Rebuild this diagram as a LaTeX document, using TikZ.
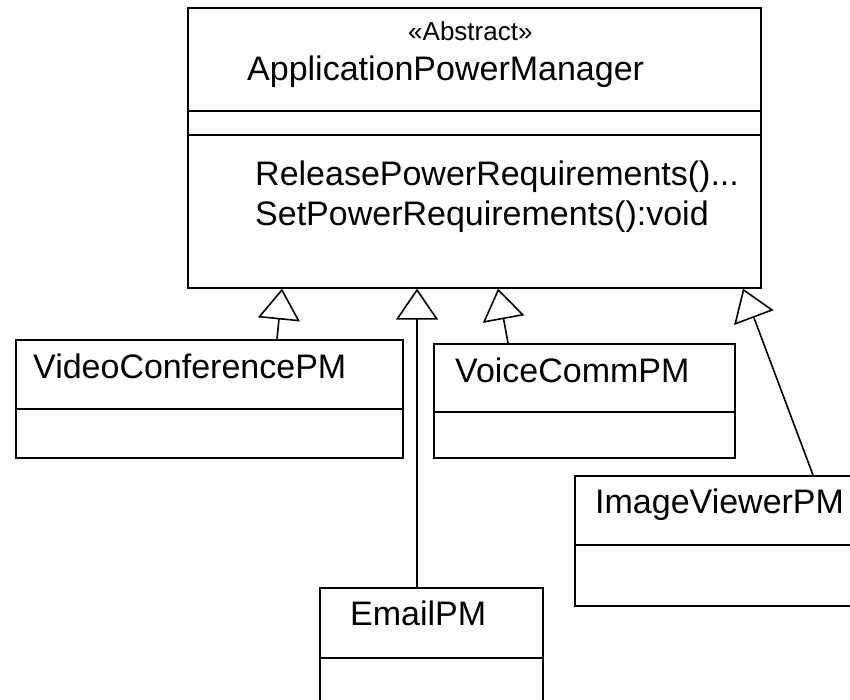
\documentclass[tikz,border=0pt]{standalone}
\usepackage{fontspec}
\setmainfont{Liberation Sans}
\usetikzlibrary{arrows.meta,calc}

\tikzset{
  classbox/.style={draw, line width=1.6pt, inner sep=0pt, anchor=north west},
  divider/.style={line width=1.6pt},
  label/.style={inner sep=0pt, anchor=base west, font=\fontsize{34}{40}\selectfont},
  stereo/.style={inner sep=0pt, anchor=base west, font=\fontsize{26}{30}\selectfont},
  inherit/.style={line width=1.6pt,
    -{Triangle[open, length=31pt, width=42pt, line width=1.6pt]}},
}

\begin{document}
\begin{tikzpicture}[x=1pt, y=-1pt]
  \path[use as bounding box, clip] (0,0) rectangle (850,699);

  % abstract base class
  \node[classbox, minimum width=573pt, minimum height=280pt] (main) at (187,7) {};
  \draw[divider] (187,111) -- (760,111);
  \draw[divider] (187,135) -- (760,135);
  \node[stereo] (mainstereo) at (408,40) {«Abstract»};
  \node[label] (mainname) at (247,80) {ApplicationPowerManager};
  \node[label] (op1) at (255,185) {ReleasePowerRequirements()...};
  \node[label] (op2) at (255,225) {SetPowerRequirements():void};

  % subclasses
  \node[classbox, minimum width=387pt, minimum height=118pt] (vc) at (15,339) {};
  \draw[divider] (15,409) -- (402,409);
  \node[label] (vcname) at (33,378) {VideoConferencePM};

  \node[classbox, minimum width=301pt, minimum height=114pt] (voice) at (433,343) {};
  \draw[divider] (433,412) -- (734,412);
  \node[label] (voicename) at (455,382) {VoiceCommPM};

  \node[classbox, minimum width=286pt, minimum height=130pt] (image) at (574,475) {};
  \draw[divider] (574,545) -- (860,545);
  \node[label] (imagename) at (595,513) {ImageViewerPM};

  \node[classbox, minimum width=223pt, minimum height=140pt] (email) at (319,587) {};
  \draw[divider] (319,658) -- (542,658);
  \node[label] (emailname) at (350,625) {EmailPM};

  % generalisation arrows
  \draw[inherit] ($(vc.north west)+(262,0)$) -- ($(main.south west)+(95,0)$);
  \draw[inherit] ($(email.north west)+(98,0)$) -- ($(main.south west)+(230,0)$);
  \draw[inherit] ($(voice.north west)+(75,0)$) -- ($(main.south west)+(311,0)$);
  \draw[inherit] ($(image.north west)+(239,0)$) -- ($(main.south west)+(556,0)$);
\end{tikzpicture}
\end{document}
